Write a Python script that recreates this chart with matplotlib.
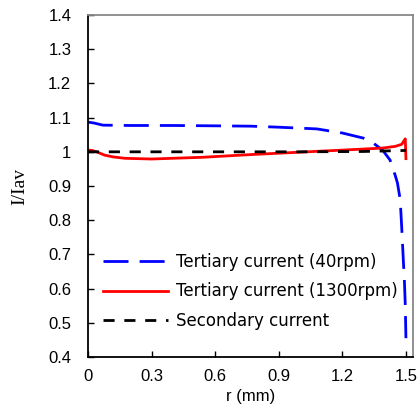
import matplotlib
matplotlib.use("Agg")
import matplotlib.pyplot as plt

# Data
r_blue = [0.0, 0.03, 0.07, 0.2, 0.4, 0.6, 0.77, 0.9, 1.08, 1.2, 1.3, 1.345, 1.39, 1.425,
          1.45, 1.46, 1.473, 1.48, 1.488, 1.493, 1.497, 1.5]
i_blue = [1.087, 1.084, 1.078, 1.077, 1.077, 1.076, 1.075, 1.072, 1.067, 1.055, 1.04, 1.026,
          1.005, 0.976, 0.93, 0.909, 0.86, 0.78, 0.68, 0.62, 0.55, 0.455]

r_red = [0.0, 0.02, 0.04, 0.08, 0.12, 0.175, 0.3, 0.54, 0.77, 1.0, 1.2, 1.39, 1.45,
         1.48, 1.497, 1.5]
i_red = [1.005, 1.004, 1.0, 0.99, 0.985, 0.981, 0.979, 0.984, 0.992, 0.999, 1.005, 1.011,
         1.016, 1.022, 1.038, 0.98]

r_black = [0.0, 0.5, 1.0, 1.3, 1.5]
i_black = [1.0, 1.0, 1.0, 1.001, 1.004]

labels = ["Tertiary current (40rpm)", "Tertiary current (1300rpm)", "Secondary current"]
xticks = [0, 0.3, 0.6, 0.9, 1.2, 1.5]
xtick_labels = ["0", "0.3", "0.6", "0.9", "1.2", "1.5"]
yticks = [0.4, 0.5, 0.6, 0.7, 0.8, 0.9, 1.0, 1.1, 1.2, 1.3, 1.4]
ytick_labels = ["0.4", "0.5", "0.6", "0.7", "0.8", "0.9", "1", "1.1", "1.2", "1.3", "1.4"]

plt.rcParams['font.family'] = ['Liberation Sans', 'DejaVu Sans']

fig = plt.figure(figsize=(4.19, 4.12), dpi=100)
ax = fig.add_axes([0.21, 0.1335, 0.776, 0.83])

ax.plot(r_blue, i_blue, color='#0000ff', lw=2.0, dashes=(9, 4), label=labels[0])
ax.plot(r_red, i_red, color='#ff0000', lw=2.0, label=labels[1])
ax.plot(r_black, i_black, color='black', lw=2.0, dashes=(4, 3.5), label=labels[2])

ax.set_xlim(0, 1.534)
ax.set_ylim(0.4, 1.4)
ax.set_xticks(xticks)
ax.set_xticklabels(xtick_labels)
ax.set_yticks(yticks)
ax.set_yticklabels(ytick_labels)
ax.tick_params(axis='both', direction='in', length=4, width=1, labelsize=12)
ax.tick_params(axis='y', pad=12)
ax.tick_params(axis='x', pad=9)

for s in ['left', 'bottom']:
    ax.spines[s].set_color('black')
    ax.spines[s].set_linewidth(1.3)
for s in ['top', 'right']:
    ax.spines[s].set_color('#888888')
    ax.spines[s].set_linewidth(1.3)

ax.set_xlabel("r (mm)", fontsize=12, labelpad=3)
ax.set_ylabel("I/Iav", fontsize=14, family=['Liberation Serif'], labelpad=14)

ax.legend(loc='lower left', bbox_to_anchor=(0.0, 0.035), frameon=False,
          prop={'family': ['DejaVu Sans'], 'size': 12},
          handlelength=3.9, handletextpad=0.5, labelspacing=0.7)

fig.savefig("out.png", dpi=100)
